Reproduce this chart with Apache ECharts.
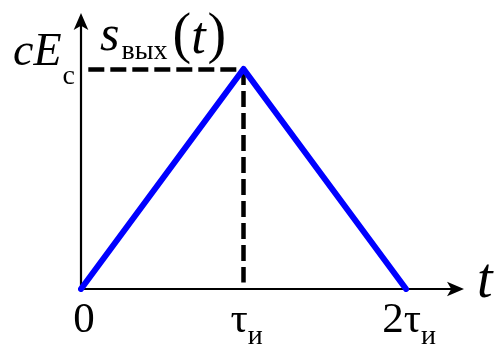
<!DOCTYPE html>
<html>
<head>
<meta charset="utf-8">
<script src="https://cdn.jsdelivr.net/npm/echarts@6/dist/echarts.min.js"></script>
<style>
  html, body { margin: 0; padding: 0; background: #ffffff; }
  #chart { width: 494px; height: 349px; }
</style>
</head>
<body>
<div id="chart"></div>
<script>
// Triangular output pulse s_вых(t): rises from 0 to cEc over τи, falls back to 0 at 2τи
const timePoints   = [0, 1, 2];   // 0, τи, 2τи
const outputValues = [0, 1, 0];   // 0, cEc, 0

// x tick labels: [main text, subscript]
const xTickLabels = [['0', ''], ['τ', 'и'], ['2τ', 'и']];
// label of the peak level on the y axis: [main text, subscript]
const peakLabel = ['cE', 'c'];
// axis titles
const xAxisTitle = 't';
const yAxisTitle = ['s', 'вых', 't'];

const FAMILY = 'Liberation Serif';
const X_MAX = 2.332;
const Y_MAX = 1.236;

const chart = echarts.init(document.getElementById('chart'), null, { renderer: 'canvas' });

const arrowAxisLine = {
  show: true,
  onZero: false,
  symbol: ['none', 'arrow'],
  symbolSize: [11, 17],
  symbolOffset: [0, 4],
  lineStyle: { color: '#000000', width: 2.2 }
};

chart.setOption({
  animation: false,
  backgroundColor: '#ffffff',
  textStyle: { fontFamily: FAMILY },
  grid: { left: 81, right: 34, top: 17, bottom: 60, containLabel: false, outerBoundsMode: 'none' },
  xAxis: {
    type: 'value', min: 0, max: X_MAX, interval: 1,
    axisLine: arrowAxisLine,
    axisTick: { show: false },
    axisLabel: { show: false },
    splitLine: { show: false }
  },
  yAxis: {
    type: 'value', min: 0, max: Y_MAX, interval: 1,
    axisLine: arrowAxisLine,
    axisTick: { show: false },
    axisLabel: { show: false },
    splitLine: { show: false }
  },
  series: [{
    type: 'line',
    data: timePoints.map((t, i) => [t, outputValues[i]]),
    symbol: 'none',
    lineStyle: { color: '#0000ff', width: 6, cap: 'round', join: 'round' },
    z: 3,
    markLine: {
      silent: true,
      symbol: ['none', 'none'],
      label: { show: false },
      lineStyle: { color: '#000000', width: 4.5, type: [16, 6] },
      z: 2,
      data: [
        [{ coord: [0.045, outputValues[1]] }, { coord: [timePoints[1], outputValues[1]] }],
        [{ coord: [timePoints[1], outputValues[1]] }, { coord: [timePoints[1], 0.03] }]
      ]
    }
  }]
});

// ---- formula-style labels (main text + subscript), placed from axis coordinates ----
const measureCtx = document.createElement('canvas').getContext('2d');
function fontOf(p) { return (p.italic ? 'italic ' : '') + p.size + 'px ' + FAMILY; }
function widthOf(p) { measureCtx.font = fontOf(p); return measureCtx.measureText(p.text).width; }

// lay out a run of text pieces on a common baseline
function textRun(pieces, x, baseline, align) {
  const widths = pieces.map(p => p.text ? widthOf(p) : 0);
  const total = widths.reduce((a, w, i) => a + w + (pieces[i].gap || 0), 0);
  let cur = align === 'center' ? x - total / 2 : align === 'right' ? x - total : x;
  const out = [];
  pieces.forEach((p, i) => {
    if (p.text) {
      out.push({
        type: 'text',
        x: cur,
        y: baseline + (p.dy || 0) - 0.33 * p.size,
        silent: true,
        style: {
          text: p.text,
          font: fontOf(p),
          fontFamily: FAMILY,
          fontSize: p.size,
          fontStyle: p.italic ? 'italic' : 'normal',
          fill: '#000000',
          align: 'left',
          verticalAlign: 'middle'
        }
      });
    }
    cur += widths[i] + (p.gap || 0);
  });
  return out;
}

const origin = chart.convertToPixel({ gridIndex: 0 }, [0, 0]);
const peak = chart.convertToPixel({ gridIndex: 0 }, [timePoints[1], outputValues[1]]);
const xEnd = chart.convertToPixel({ gridIndex: 0 }, [X_MAX, 0]);
const yEnd = chart.convertToPixel({ gridIndex: 0 }, [0, Y_MAX]);

let graphics = [];

// tick labels under the time axis
timePoints.forEach((t, i) => {
  const px = chart.convertToPixel({ gridIndex: 0 }, [t, 0])[0];
  const [main, sub] = xTickLabels[i];
  graphics = graphics.concat(textRun([
    { text: main, size: 43 },
    { text: sub, size: 28, dy: 11 }
  ], px + 3, origin[1] + 46, 'center'));
});

// peak level label left of the vertical axis
graphics = graphics.concat(textRun([
  { text: peakLabel[0], size: 46, italic: true, gap: 1 },
  { text: peakLabel[1], size: 28, dy: 18 }
], origin[0] - 6, peak[1] - 1, 'right'));

// time axis title
graphics = graphics.concat(textRun([
  { text: xAxisTitle, size: 56, italic: true }
], xEnd[0] + 17, origin[1] + 12, 'left'));

// signal axis title s_вых(t)
graphics = graphics.concat(textRun([
  { text: yAxisTitle[0], size: 50, italic: true, gap: 2 },
  { text: yAxisTitle[1], size: 28, dy: 8, gap: 5 },
  { text: '(', size: 56, dy: 3 },
  { text: yAxisTitle[2], size: 52, italic: true, dy: 3, gap: 2 },
  { text: ')', size: 56, dy: 3 }
], origin[0] + 19, yEnd[1] + 36, 'left'));

chart.setOption({ graphic: graphics });
</script>
</body>
</html>
